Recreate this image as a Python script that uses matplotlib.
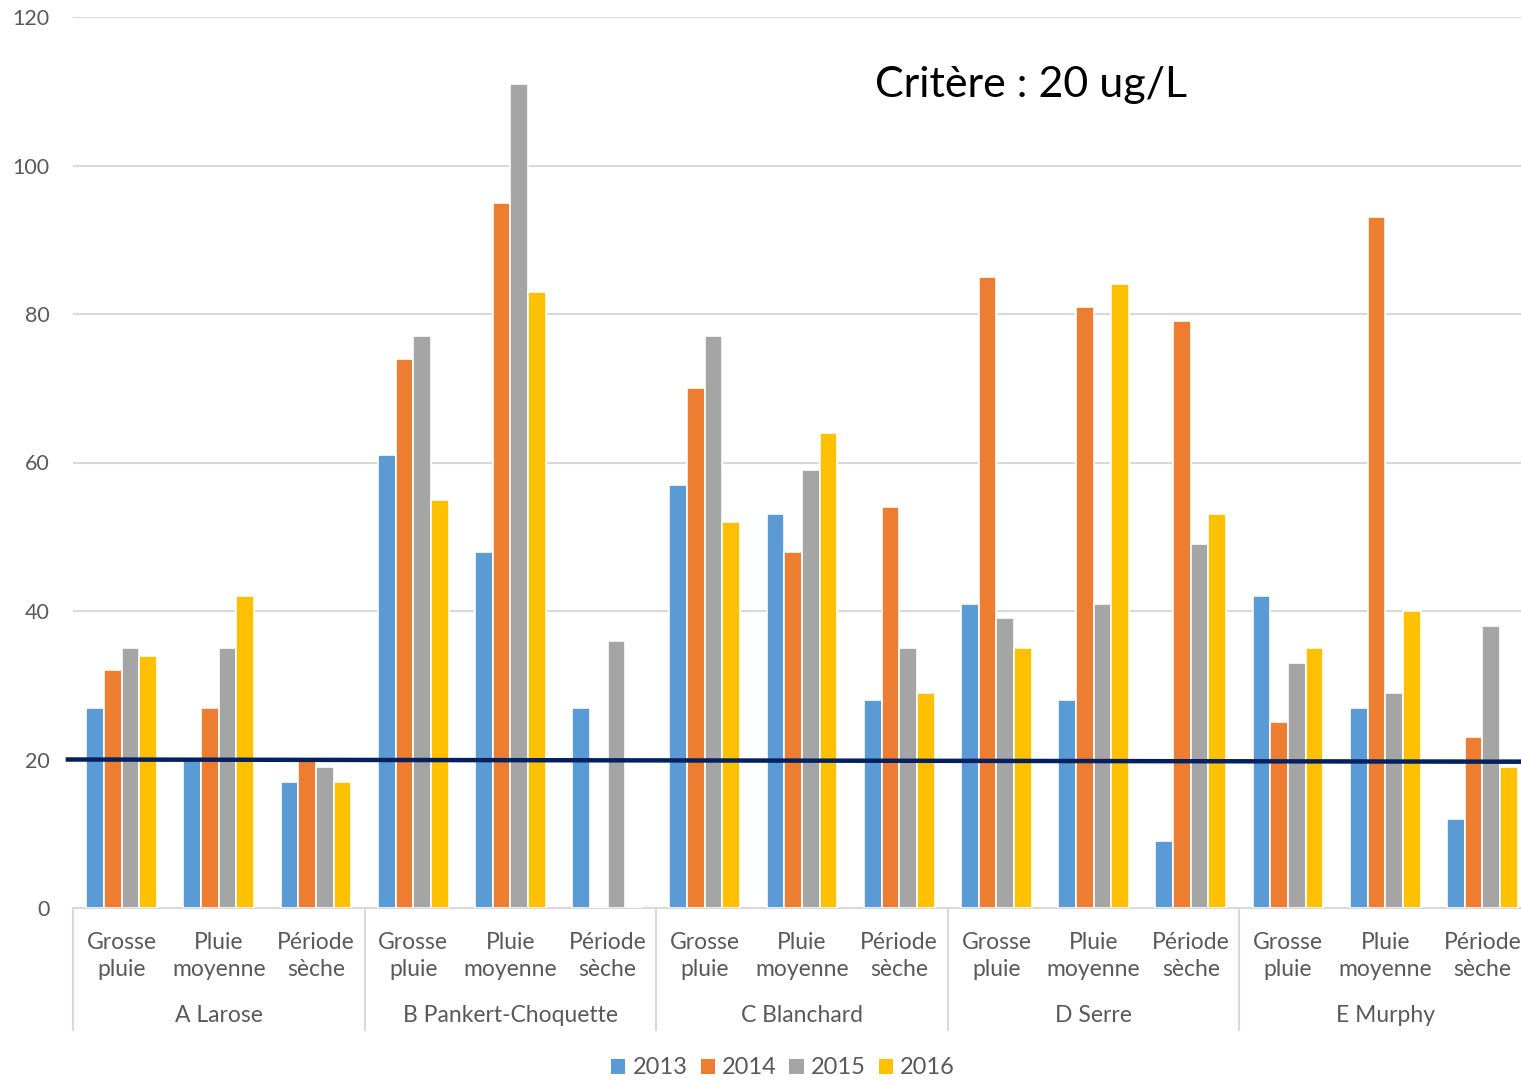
import numpy as np
import matplotlib
matplotlib.use("Agg")
from matplotlib import pyplot as plt
from matplotlib.patches import Patch
from matplotlib.transforms import blended_transform_factory

# Sites and weather conditions (two-level category axis)
sites = ["A Larose", "B Pankert-Choquette", "C Blanchard", "D Serre", "E Murphy"]
conditions = ["Grosse\npluie", "Pluie\nmoyenne", "Période\nsèche"]
years = ["2013", "2014", "2015", "2016"]

# Concentrations (ug/L), one value per site/condition, in site order
vals_2013 = [27, 20, 17, 61, 48, 27, 57, 53, 28, 41, 28, 9, 42, 27, 12]
vals_2014 = [32, 27, 20, 74, 95, 0, 70, 48, 54, 85, 81, 79, 25, 93, 23]
vals_2015 = [35, 35, 19, 77, 111, 36, 77, 59, 35, 39, 41, 49, 33, 29, 38]
vals_2016 = [34, 42, 17, 55, 83, 0, 52, 64, 29, 35, 84, 53, 35, 40, 19]

criterion = 20
yticks = [0, 20, 40, 60, 80, 100, 120]

colors = ["#5B9BD5", "#ED7D31", "#A5A5A5", "#FFC000"]
grey_txt = "#595959"
grid_col = "#D9D9D9"

plt.rcParams["font.family"] = ["Lato", "DejaVu Sans"]

fig = plt.figure(figsize=(15.21, 10.81), dpi=100)
# the plot area runs a little past the right edge of the figure
ax = fig.add_axes([73 / 1521, 1 - 908 / 1081, (1531 - 73) / 1521, (908 - 17) / 1081])

n = len(sites) * len(conditions)
x = np.arange(n)
w = 0.182
series = [vals_2013, vals_2014, vals_2015, vals_2016]
for k, (vals, col) in enumerate(zip(series, colors)):
    ax.bar(x + (k - 1.5) * w, vals, width=w, color=col, edgecolor="white",
           linewidth=1.2, zorder=3)

ax.set_xlim(-0.5, n - 0.5)
ax.set_ylim(0, 120)
ax.set_yticks(yticks)
ax.set_xticks([])
ax.tick_params(axis="y", length=0, pad=17, labelsize=15.5, labelcolor=grey_txt)
ax.grid(axis="y", color=grid_col, linewidth=1.5, zorder=0)
for s in ["top", "right", "left"]:
    ax.spines[s].set_visible(False)
ax.spines["bottom"].set_color(grid_col)
ax.spines["bottom"].set_linewidth(1.5)

# criterion line (drawn slightly past the left edge of the plot)
trans_ax = blended_transform_factory(ax.transAxes, ax.transData)
ax.plot([-0.0035, 1.0], [criterion, criterion - 0.3], color="#002060",
        linewidth=3.2, transform=trans_ax, clip_on=False, zorder=5)

# two-level category labels under the axis
trans_fig = blended_transform_factory(ax.transData, fig.transFigure)
for i in range(n):
    ax.text(x[i], 1 - 956 / 1081, conditions[i % 3], transform=trans_fig,
            ha="center", va="center", fontsize=16.5, color=grey_txt,
            linespacing=1.37)
for j, site in enumerate(sites):
    ax.text(j * 3 + 1, 1 - 1016 / 1081, site, transform=trans_fig,
            ha="center", va="center", fontsize=16.5, color=grey_txt)
for b in np.arange(0, n, 3) - 0.5:
    ax.plot([b, b], [1 - 908 / 1081, 1 - 1030 / 1081], color=grid_col,
            linewidth=1.5, transform=trans_fig, clip_on=False)

fig.text(875 / 1521, 1 - 85 / 1081, "Critère : 20 ug/L", ha="left",
         va="center", fontsize=31, color="black")

handles = [Patch(facecolor=c, edgecolor="none") for c in colors]
fig.legend(handles, years, loc="center", bbox_to_anchor=(783 / 1521, 1 - 1068 / 1081),
           ncol=4, frameon=False, fontsize=17, handlelength=0.6,
           handleheight=0.6, handletextpad=0.3, columnspacing=0.55,
           labelcolor=grey_txt, borderpad=0)

fig.savefig("out.png", dpi=100)
